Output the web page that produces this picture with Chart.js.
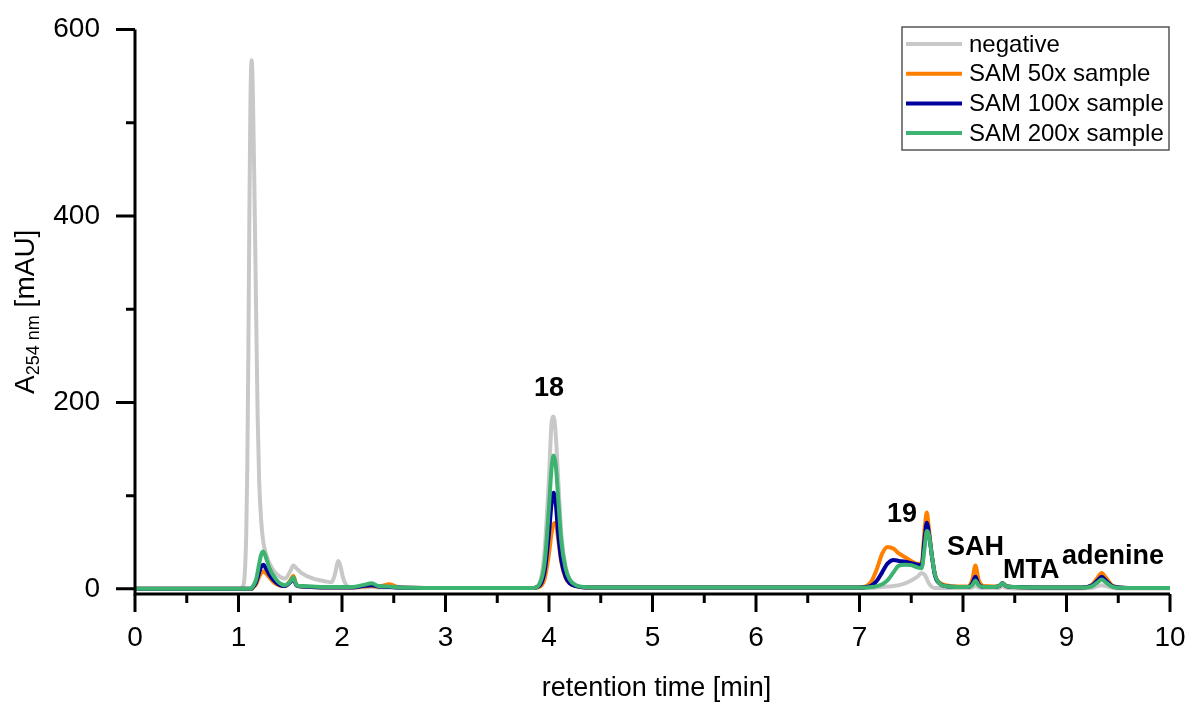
<!DOCTYPE html>
<html>
<head>
<meta charset="utf-8">
<title>HPLC chromatogram</title>
<script src="https://cdn.jsdelivr.net/npm/chart.js@4.4.1/dist/chart.umd.min.js"></script>
<style>
  html, body { margin: 0; padding: 0; background: #ffffff; }
  #wrap { width: 1188px; height: 704px; }
</style>
</head>
<body>
<div id="wrap"><canvas id="chart" width="1188" height="704"></canvas></div>
<script>
// Retention time grid (min) shared by all traces
const retentionTime = [
  0, 0.5, 1.0, 1.04, 1.06, 1.075, 1.085, 1.095, 1.105, 1.115,
  1.127, 1.14, 1.155, 1.17, 1.185, 1.20, 1.22, 1.24, 1.27, 1.30,
  1.35, 1.40, 1.45, 1.50, 1.53, 1.56, 1.61, 1.71, 1.84, 1.90,
  1.93, 1.965, 1.99, 2.01, 2.05, 2.10, 2.20, 2.29, 2.35, 2.46,
  2.55, 3.0, 3.5, 3.85, 3.92, 3.96, 4.00, 4.025, 4.045, 4.065,
  4.09, 4.12, 4.16, 4.20, 4.26, 4.35, 4.5, 5.0, 6.0, 7.0,
  7.07, 7.12, 7.17, 7.22, 7.27, 7.33, 7.38, 7.44, 7.50, 7.56,
  7.60, 7.63, 7.65, 7.67, 7.70, 7.73, 7.77, 7.83, 7.95, 8.05,
  8.09, 8.12, 8.15, 8.20, 8.30, 8.35, 8.38, 8.42, 8.50, 8.8,
  9.15, 9.25, 9.30, 9.34, 9.38, 9.45, 9.6, 10
];

// Absorbance at 254 nm (mAU)
const negative = [
  0, 0, 0, 2, 15, 60, 130, 250, 400, 520,
  567, 525, 420, 300, 185, 115, 72, 50, 36, 27,
  18, 13, 11, 19, 25, 22, 17, 11.5, 8, 7,
  15, 30, 22, 12, 3, 1.5, 1.5, 2, 1.5, 1.5,
  1, 1, 1, 1, 10, 45, 120, 178, 185, 165,
  115, 58, 24, 10, 4, 1.5, 1, 1, 1, 1,
  1, 1, 1.5, 2, 2.5, 3, 4, 6, 9, 13,
  17, 15, 11, 6, 2, 1, 1, 1, 1, 1,
  1.5, 3, 1.5, 1, 1, 1, 3, 1, 0.5, 0.5,
  0.5, 1, 3, 4, 3, 1, 0.5, 0.5
];
const sam50x = [
  0, 0, 0, 0, 0, 0, 0, 0, 0, 0,
  0, 1.5, 3, 5, 9, 13, 17, 19, 16, 12,
  6, 3.5, 3, 9, 14, 4, 2.5, 2, 1.5, 1.5,
  1.5, 1.5, 1.5, 1.5, 1.5, 1.5, 2.5, 3, 2.5, 5,
  1.5, 1, 1, 1, 3, 12, 38, 60, 70, 71,
  52, 28, 12, 6, 3, 1.5, 1.5, 1.5, 1.5, 1.5,
  3, 9, 22, 38, 45, 43, 38, 34, 30, 27,
  27, 65, 82, 65, 35, 15, 7, 4, 2.5, 2.5,
  10, 25, 10, 3, 2.5, 3, 6, 3, 2, 1.5,
  1.5, 5, 12, 17, 12, 3, 1, 1
];
const sam100x = [
  0, 0, 0, 0, 0, 0, 0, 0, 0, 0,
  0, 2, 4, 7, 12, 18, 24, 26, 21, 15,
  8, 4, 3, 7, 11, 3.5, 2.5, 2, 1.5, 1.5,
  1.5, 1.5, 1.5, 1.5, 1.5, 1.5, 3, 4, 2.5, 2,
  1.5, 1, 1, 1, 5, 20, 60, 92, 103, 92,
  58, 30, 13, 6, 3, 1.5, 1.5, 1.5, 1.5, 1.5,
  2, 4, 9, 18, 27, 31, 30, 29, 27.5, 26,
  25, 55, 71, 60, 35, 14, 6, 3, 2, 2,
  6, 13, 5, 2, 2, 3, 6, 3, 2, 1.5,
  1.5, 4, 9, 13, 9, 2.5, 1, 1
];
const sam200x = [
  0, 0, 0, 0, 0, 0, 0, 0, 0, 0,
  1, 3, 6, 10, 18, 27, 37, 40, 32, 22,
  12, 6, 4, 8, 12.5, 4, 3, 2.5, 2, 2,
  2, 2, 2, 2, 2, 2, 4, 6, 3, 2.5,
  1.5, 1, 1, 1, 8, 30, 88, 130, 143, 133,
  95, 50, 22, 10, 4, 2, 1.5, 1.5, 1.5, 1.5,
  1.5, 2, 3, 5, 9, 18, 25, 26, 25.5, 23,
  22, 45, 62, 58, 35, 15, 6, 3, 2, 2,
  4, 9, 4, 2, 2, 3, 6, 3, 2, 1.5,
  1.5, 3, 7, 10, 7, 2, 1, 1
];

const seriesNames  = ['negative', 'SAM 50x sample', 'SAM 100x sample', 'SAM 200x sample'];
const seriesValues = [negative, sam50x, sam100x, sam200x];
const seriesColors = ['#c8c8c8', '#ff8000', '#00009c', '#3cb371'];

// Axis ticks
const xMajorTicks = [0, 1, 2, 3, 4, 5, 6, 7, 8, 9, 10];
const xMinorTicks = [0.5, 1.5, 2.5, 3.5, 4.5, 5.5, 6.5, 7.5, 8.5, 9.5];
const yMajorTicks = [0, 200, 400, 600];
const yMinorTicks = [100, 300, 500];

// Peak annotations: text, retention time (min), height of text baseline (mAU)
const peakLabels      = ['18', '19', 'SAH', 'MTA', 'adenine'];
const peakLabelTimes  = [4.0, 7.41, 8.12, 8.66, 9.45];
const peakLabelLevels = [207, 72, 36.5, 11.8, 26.8];

const FONT = "'Liberation Sans', Arial, Helvetica, sans-serif";

// later series are painted over earlier ones (lower order = on top)
const datasets = seriesNames.map((name, i) => ({
  label: name,
  data: retentionTime.map((t, k) => ({ x: t, y: seriesValues[i][k] })),
  borderColor: seriesColors[i],
  backgroundColor: seriesColors[i],
  borderWidth: 4,
  pointRadius: 0,
  fill: false,
  order: seriesNames.length - i,
  cubicInterpolationMode: 'monotone',
  borderJoinStyle: 'round'
}));

// Axis lines, outward ticks, axis titles, annotations and boxed legend
const decorations = {
  id: 'decorations',
  afterDatasetsDraw(chart) {
    const ctx = chart.ctx;
    const xs = chart.scales.x, ys = chart.scales.y;
    const area = chart.chartArea;
    ctx.save();
    ctx.strokeStyle = '#000';
    ctx.lineWidth = 3;
    ctx.lineCap = 'butt';

    // axis lines
    ctx.beginPath();
    ctx.moveTo(area.left, area.top);
    ctx.lineTo(area.left, area.bottom + 1.5);
    ctx.moveTo(area.left - 1.5, area.bottom);
    ctx.lineTo(area.right, area.bottom);
    ctx.stroke();

    // x ticks (downward)
    ctx.beginPath();
    xMajorTicks.forEach(v => { const px = xs.getPixelForValue(v); ctx.moveTo(px, area.bottom); ctx.lineTo(px, area.bottom + 18); });
    xMinorTicks.forEach(v => { const px = xs.getPixelForValue(v); ctx.moveTo(px, area.bottom); ctx.lineTo(px, area.bottom + 9); });
    // y ticks (leftward)
    yMajorTicks.forEach(v => { const py = ys.getPixelForValue(v); ctx.moveTo(area.left, py); ctx.lineTo(area.left - 19, py); });
    yMinorTicks.forEach(v => { const py = ys.getPixelForValue(v); ctx.moveTo(area.left, py); ctx.lineTo(area.left - 9, py); });
    ctx.stroke();

    // peak annotations
    ctx.fillStyle = '#000';
    ctx.font = 'bold 27px ' + FONT;
    ctx.textAlign = 'center';
    ctx.textBaseline = 'alphabetic';
    peakLabels.forEach((txt, i) => {
      ctx.fillText(txt, xs.getPixelForValue(peakLabelTimes[i]), ys.getPixelForValue(peakLabelLevels[i]));
    });

    // x axis title
    ctx.font = '27px ' + FONT;
    ctx.textAlign = 'center';
    ctx.textBaseline = 'middle';
    ctx.fillText('retention time [min]', (area.left + area.right) / 2 + 4, 689);

    // y axis title with subscript
    const mainFont = '28px ' + FONT, subFont = '18px ' + FONT;
    ctx.font = mainFont; const wA = ctx.measureText('A').width;
    const wRest = ctx.measureText(' [mAU]').width;
    ctx.font = subFont; const wSub = ctx.measureText('254 nm').width;
    const total = wA + wSub + wRest;
    ctx.translate(34, (area.top + area.bottom) / 2);
    ctx.rotate(-Math.PI / 2);
    ctx.textAlign = 'left';
    ctx.textBaseline = 'alphabetic';
    let cx = -total / 2;
    ctx.font = mainFont; ctx.fillText('A', cx, 0); cx += wA;
    ctx.font = subFont; ctx.fillText('254 nm', cx, 5); cx += wSub;
    ctx.font = mainFont; ctx.fillText(' [mAU]', cx, 0);
    ctx.restore();

    // legend box
    ctx.save();
    const lx = 902, ly = 27, lw = 267, lh = 123;
    ctx.fillStyle = '#fff';
    ctx.fillRect(lx, ly, lw, lh);
    ctx.strokeStyle = '#555';
    ctx.lineWidth = 1.5;
    ctx.strokeRect(lx, ly, lw, lh);
    ctx.font = '24px ' + FONT;
    ctx.textAlign = 'left';
    ctx.textBaseline = 'middle';
    chart.data.datasets.forEach((ds, i) => {
      const yy = 44 + i * 29.7;
      ctx.strokeStyle = ds.borderColor;
      ctx.lineWidth = 4;
      ctx.beginPath();
      ctx.moveTo(906, yy);
      ctx.lineTo(962, yy);
      ctx.stroke();
      ctx.fillStyle = '#000';
      ctx.fillText(ds.label, 969, yy + 1);
    });
    ctx.restore();
  }
};

new Chart(document.getElementById('chart'), {
  type: 'line',
  data: { datasets },
  plugins: [decorations],
  options: {
    responsive: false,
    animation: false,
    devicePixelRatio: 1,
    layout: { padding: { top: 29.5, right: 18, left: 0, bottom: 0 } },
    plugins: { legend: { display: false }, tooltip: { enabled: false }, title: { display: false } },
    scales: {
      x: {
        type: 'linear',
        min: 0, max: 10,
        afterFit(scale) { scale.height = 110; scale.paddingLeft = 0; scale.paddingRight = 0; },
        afterBuildTicks(scale) { scale.ticks = xMajorTicks.map(v => ({ value: v })); },
        grid: { display: false, drawTicks: false },
        border: { display: false },
        ticks: { color: '#000', font: { family: FONT, size: 28 }, padding: 27, maxRotation: 0, autoSkip: false }
      },
      y: {
        type: 'linear',
        min: -5.5, max: 600,
        afterFit(scale) { scale.width = 135; scale.paddingTop = 0; scale.paddingBottom = 0; },
        afterBuildTicks(scale) { scale.ticks = yMajorTicks.map(v => ({ value: v })); },
        grid: { display: false, drawTicks: false },
        border: { display: false },
        ticks: { color: '#000', font: { family: FONT, size: 28 }, padding: 35 }
      }
    }
  }
});
</script>
</body>
</html>
